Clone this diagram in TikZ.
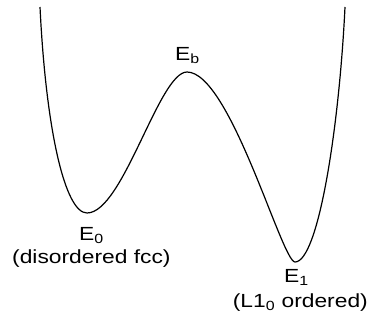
\documentclass[tikz,border=0pt]{standalone}
\usepackage{fontspec}
\setmainfont{Liberation Sans}
\begin{document}
\begin{tikzpicture}[x=1pt,y=-1pt,
  lbl/.style={inner sep=0pt, font=\fontsize{19}{21}\selectfont},
  curve/.style={line width=1.2pt, black}]
\useasboundingbox (0,0) rectangle (370,324);
\coordinate (top0) at (40,7);
\coordinate (min0) at (87,213);
\coordinate (peak) at (187,72);
\coordinate (min1) at (295,262);
\coordinate (top1) at (345,7);
\draw[curve] (top0) .. controls (46,130) and (65,213) .. (min0)
  .. controls (123,213) and (159,72) .. (peak)
  .. controls (230,72) and (282,262) .. (min1)
  .. controls (318,262) and (339,130) .. (top1);
\node[lbl, anchor=base west] (eb) at (175,60) {\scalebox{1.2}[1]{E\textsubscript{b}}};
\node[lbl, anchor=base west] (e0) at (79,240) {\scalebox{1.2}[1]{E\textsubscript{0}}};
\node[lbl, anchor=base west] (d0) at (12,263) {\scalebox{1.2}[1]{(disordered fcc)}};
\node[lbl, anchor=base west] (e1) at (284,282) {\scalebox{1.2}[1]{E\textsubscript{1}}};
\node[lbl, anchor=base east] (d1) at (368,307) {\scalebox{1.2}[1]{(L1\textsubscript{0} ordered)}};
\end{tikzpicture}
\end{document}
